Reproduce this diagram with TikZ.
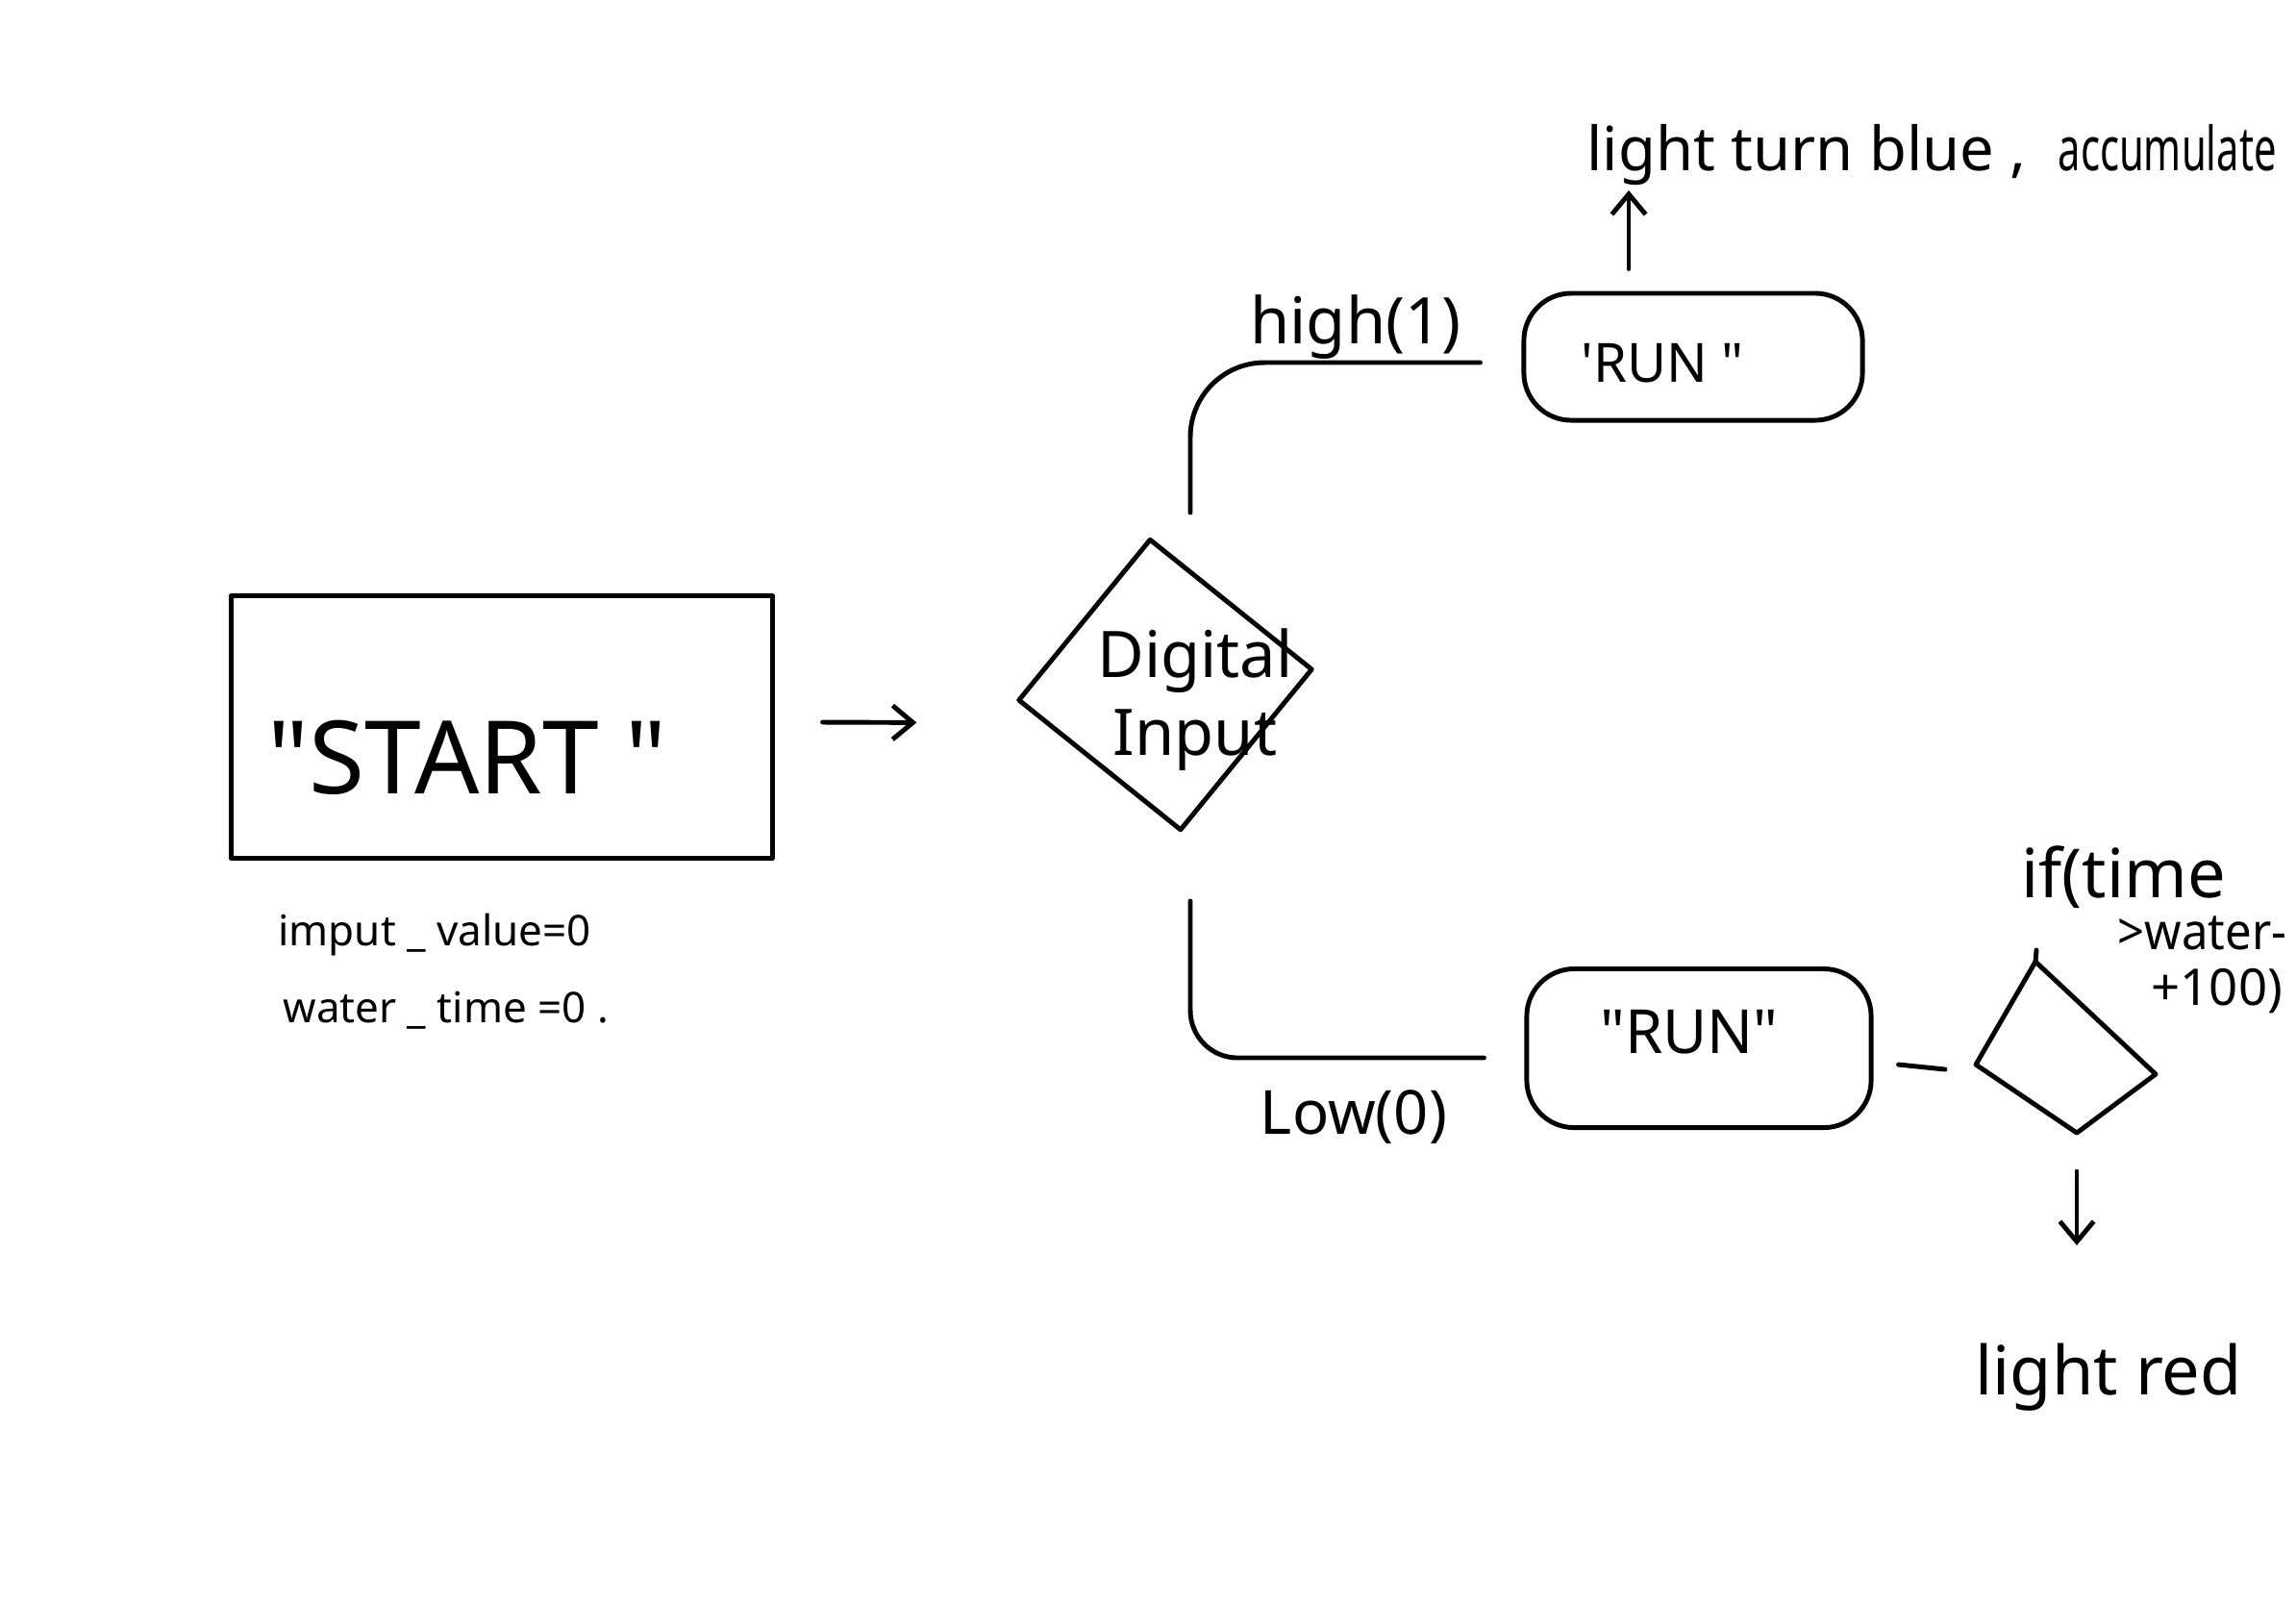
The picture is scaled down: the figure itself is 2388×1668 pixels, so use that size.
\documentclass[tikz,border=0pt]{standalone}
\usepackage{fontspec}
\usepackage{graphicx}
\setmainfont{Noto Sans}
\usetikzlibrary{shapes.geometric,arrows.meta}
\begin{document}
\begin{tikzpicture}[x=0.01cm,y=-0.01cm, line width=1.4pt, line cap=round, line join=round,
  startbox/.style={draw, rectangle, inner sep=0pt, minimum width=5.62cm, minimum height=2.73cm},
  runbox/.style={draw, rectangle, rounded corners=14pt, inner sep=0pt},
  decision/.style={draw, diamond, inner sep=0pt},
  hand/.style={inner sep=0pt},
  flow/.style={-{Straight Barb[length=6pt,width=10pt,line width=1.4pt]}}]
\useasboundingbox (0,0) rectangle (2388,1668);
\fill[white] (0,0) rectangle (2388,1668);
\clip (0,0) rectangle (2388,1668);

% start box
\node[startbox] (start) at (522,756) {};
\node[hand, font=\fontsize{30}{34}\selectfont] (starttxt) at (486,788) {\textquotedbl START \textquotedbl};
\node[hand, anchor=base west, font=\fontsize{12.5}{14}\selectfont] (iv) at (287,983) {imput \_ value=0};
\node[hand, anchor=base west, font=\fontsize{12.5}{14}\selectfont] (wt) at (292,1063) {water \_ time =0 .};

% decision
\node[decision, minimum width=3.08cm, minimum height=3.05cm, rotate=6] (dia) at (1212,712) {};
\node[hand, align=center, font=\fontsize{19}{23}\selectfont] (diatxt) at (1243,728) {Digital\\Input};

% run boxes
\node[runbox, minimum width=3.52cm, minimum height=1.32cm] (run1) at (1761,371) {};
\node[hand, font=\fontsize{16}{18}\selectfont] (run1txt) at (1729,378) {\textquotesingle RUN \textquotedbl};
\node[runbox, minimum width=3.58cm, minimum height=1.65cm] (run2) at (1767,1090) {};
\node[hand, font=\fontsize{18}{20}\selectfont] (run2txt) at (1757,1073) {\textquotedbl RUN\textquotedbl};

% labels
\node[hand, font=\fontsize{19}{21}\selectfont] (hi) at (1410,340) {high(1)};
\node[hand, font=\fontsize{18}{20}\selectfont] (lo) at (1408,1162) {Low(0)};
\node[hand, anchor=base west, font=\fontsize{18}{20}\selectfont] (blue) at (1648,177) {light turn blue ,\ \ \scalebox{0.66}[1]{accumulate}};
\node[hand, anchor=base west, font=\fontsize{20}{22}\selectfont] (iftxt) at (2100,933) {if(time};
\node[hand, anchor=base west, font=\fontsize{15}{17}\selectfont] (wtxt) at (2200,987) {\scalebox{0.93}[1]{>water-}};
\node[hand, anchor=base west, font=\fontsize{15}{17}\selectfont] (ptxt) at (2235,1045) {+100)};
\node[hand, anchor=base west, font=\fontsize{20}{22}\selectfont] (red) at (2052,1450) {light red};

% second decision (quadrilateral)
\coordinate (qt) at (2117,1000);
\coordinate (qr) at (2242,1117);
\coordinate (qb) at (2160,1178);
\coordinate (ql) at (2055,1107);
\draw (qt) -- (qr) -- (qb) -- (ql) -- cycle;
\draw (qt) -- ++(1,-12);

% free ends
\coordinate (bluetip) at (1694,198);
\coordinate (redtip) at (2160,1295);

% connectors
\draw[flow] ([shift={(50,-5)}]start.east) -- ([shift={(-103,23)}]dia.west);
\draw[rounded corners=22pt] ([shift={(26,-179)}]dia.center) |- ([shift={(-43,6)}]run1.west);
\draw[rounded corners=14pt] ([shift={(26,225)}]dia.center) |- ([shift={(-42,10)}]run2.west);
\draw[flow] ([shift={(-67,-23)}]run1.north) -- (bluetip);
\draw ([shift={(26,17)}]run2.east) -- ([shift={(-32,5)}]ql);
\draw[flow] ([shift={(0,40)}]qb) -- (redtip);
\end{tikzpicture}
\end{document}
